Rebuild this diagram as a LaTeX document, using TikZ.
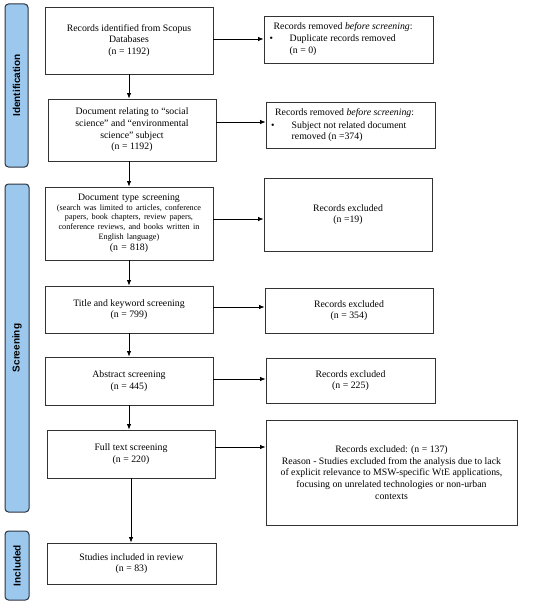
\documentclass[tikz,border=0pt]{standalone}
\usepackage{fontspec}
\setmainfont{Liberation Serif}
\newfontfamily\labelfont{Liberation Sans}
\usetikzlibrary{arrows.meta}
\definecolor{boxcol}{HTML}{333333}
\definecolor{sideblue}{HTML}{9DC8EE}
\definecolor{sideborder}{HTML}{2B3440}
\begin{document}
\begin{tikzpicture}[x=1pt,y=-1pt,
  box/.style={draw=boxcol, line width=0.9pt, inner sep=0pt, align=center,
    font=\fontsize{9.8}{11.7}\selectfont},
  txt/.style={inner sep=0pt, anchor=west, font=\fontsize{9.8}{11.7}\selectfont},
  arr/.style={draw=black, line width=0.8pt, -{Latex[length=5.5pt,width=4.5pt]}},
  side/.style={draw=sideborder, fill=sideblue, rounded corners=3.5pt, line width=1pt, inner sep=0pt},
  sidelabel/.style={rotate=90, font=\labelfont\bfseries\fontsize{10}{11}\selectfont, inner sep=0pt}
]
\useasboundingbox (0,0) rectangle (550,604);

% side bars
\node[side, minimum width=23pt, minimum height=163pt] (S1) at (16.5,85.5) {};
\node[sidelabel] (L1) at (S1.center) {Identification};
\node[side, minimum width=24pt, minimum height=328pt] (S2) at (17,348) {};
\node[sidelabel] (L2) at (S2.center) {Screening};
\node[side, minimum width=24pt, minimum height=69pt] (S3) at (17,565.5) {};
\node[sidelabel] (L3) at (S3.center) {Included};

% main column
\node[box, minimum width=168pt, minimum height=67pt] (B1) at (129,40.5)
  {Records identified from Scopus\\Databases\\(n = 1192)};
\node[box, minimum width=168pt, minimum height=62pt] (B2) at (132,130)
  {Document relating to “social\\science” and “environmental\\science” subject\\(n = 1192)};
\node[box, minimum width=168pt, minimum height=73pt, text width=166pt] (B3) at (129,223.5)
  {Document type screening\par
   {\fontsize{8.2}{9.7}\selectfont (search was limited to articles, conference\\papers, book chapters, review papers,\\conference reviews, and books written in\\English language)\par}
   (n = 818)};
\node[box, minimum width=168pt, minimum height=47pt] (B4) at (129,309.5)
  {Title and keyword screening\\(n = 799)};
\node[box, minimum width=168pt, minimum height=48pt] (B5) at (129,381)
  {Abstract screening\\(n = 445)};
\node[box, minimum width=168pt, minimum height=48pt] (B6) at (131,454)
  {Full text screening\\(n = 220)};
\node[box, minimum width=169pt, minimum height=41pt] (B7) at (131.5,563.5)
  {Studies included in review\\(n = 83)};

% right column
\node[box, minimum width=169pt, minimum height=47pt] (R1) at (348.5,39.5) {};
\node[txt] (R1a) at (273.5,27) {Records removed \textit{before screening}:};
\node[txt] (R1b) at (269.5,39.5) {•};
\node[txt] (R1c) at (289.5,39.5) {Duplicate records removed};
\node[txt] (R1d) at (289.5,51.5) {(n = 0)};

\node[box, minimum width=169pt, minimum height=46pt] (R2) at (350.5,125) {};
\node[txt] (R2a) at (275,113.5) {Records removed \textit{before screening}:};
\node[txt] (R2b) at (271,126) {•};
\node[txt] (R2c) at (291.5,126) {Subject not related document};
\node[txt] (R2d) at (291.5,137.5) {removed (n =374)};

\node[box, minimum width=168pt, minimum height=73pt] (R3) at (348,214.5)
  {Records excluded\\(n =19)};
\node[box, minimum width=168pt, minimum height=45pt] (R4) at (349,310.5)
  {Records excluded\\(n = 354)};
\node[box, minimum width=169pt, minimum height=45pt] (R5) at (350.5,380.5)
  {Records excluded\\(n = 225)};
\node[box, minimum width=251pt, minimum height=105pt] (R6) at (391.5,472.5)
  {Records excluded: (n = 137)\\Reason - Studies excluded from the analysis due to lack\\of explicit relevance to MSW-specific WtE applications,\\focusing on unrelated technologies or non-urban\\contexts};

% vertical arrows
\draw[arr] (B1.south) -- (B1.south |- B2.north);
\draw[arr] (B2.south -| B1.south) -- (B1.south |- B3.north);
\draw[arr] (B3.south) -- (B3.south |- B4.north);
\draw[arr] (B4.south) -- (B4.south |- B5.north);
\draw[arr] (B5.south) -- (B5.south |- B6.north);
\draw[arr] (B6.south) -- (B6.south |- B7.north);

% horizontal arrows
\draw[arr] (B1.east |- 0,39) -- (R1.west |- 0,39);
\draw[arr] (B2.east |- 0,122) -- (R2.west |- 0,122);
\draw[arr] (B3.east |- 0,219) -- (R3.west |- 0,219);
\draw[arr] (B4.east |- 0,307) -- (R4.west |- 0,307);
\draw[arr] (B5.east |- 0,379) -- (R5.west |- 0,379);
\draw[arr] (B6.east |- 0,447) -- (R6.west |- 0,447);
\end{tikzpicture}
\end{document}
